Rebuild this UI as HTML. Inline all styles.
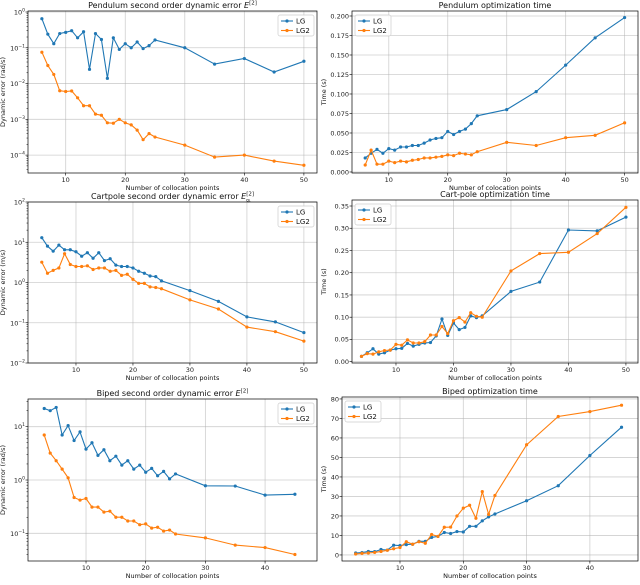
<!DOCTYPE html>
<html><head><meta charset="utf-8"><style>
body{margin:0;background:#fff}
svg{font-family:"DejaVu Sans","Liberation Sans",sans-serif}
</style></head><body>
<svg id="fig" width="640" height="580" viewBox="0 0 640 580" xmlns="http://www.w3.org/2000/svg"></svg>
<script>
// ---------- data ----------
const xsA = [6,7,8,9,10,11,12,13,14,15,16,17,18,19,20,21,22,23,24,25,30,35,40,45,50];
const xsB = [4,5,6,7,8,9,10,11,12,13,14,15,16,17,18,19,20,21,22,23,24,25,30,35,40,45,50];
const xsC = [3,4,5,6,7,8,9,10,11,12,13,14,15,16,17,18,19,20,21,22,23,24,25,30,35,40,45];
const pendErrLG = [0.65,0.24,0.13,0.25,0.27,0.3,0.19,0.28,0.025,0.25,0.17,0.014,0.19,0.09,0.13,0.1,0.145,0.095,0.115,0.165,0.1,0.035,0.05,0.021,0.042];
const pendErrLG2 = [0.075,0.032,0.018,0.0063,0.006,0.0062,0.004,0.0024,0.0024,0.0014,0.0013,0.0008,0.00078,0.001,0.0008,0.0007,0.0005,0.00027,0.0004,0.00032,0.00019,0.000088,0.0001,0.000068,0.000052];
const pendTimeLG = [0.018,0.024,0.029,0.024,0.030,0.028,0.032,0.032,0.034,0.034,0.037,0.041,0.043,0.044,0.052,0.048,0.052,0.055,0.062,0.072,0.080,0.103,0.137,0.172,0.198];
const pendTimeLG2 = [0.009,0.028,0.010,0.010,0.014,0.012,0.014,0.013,0.015,0.016,0.018,0.018,0.019,0.020,0.022,0.021,0.024,0.023,0.022,0.026,0.038,0.034,0.044,0.047,0.063];
const cartErrLG = [13,8,6,8.5,6.5,6.5,5.8,4.5,5.5,4,5.5,3.5,3.9,2.7,2.5,2.5,2.3,1.9,1.7,1.45,1.4,1.1,0.63,0.34,0.14,0.105,0.057];
const cartErrLG2 = [3.2,1.7,2,2.3,5.2,2.8,2.5,2.5,2.6,2.1,2.3,2.3,1.9,2,1.5,1.6,1.2,0.95,0.95,0.78,0.75,0.7,0.37,0.22,0.078,0.06,0.035];
const cartTimeLG = [0.012,0.020,0.029,0.017,0.020,0.026,0.029,0.030,0.041,0.035,0.039,0.042,0.043,0.058,0.096,0.059,0.087,0.072,0.077,0.103,0.099,0.103,0.158,0.179,0.296,0.294,0.325];
const cartTimeLG2 = [0.012,0.018,0.017,0.022,0.025,0.026,0.039,0.037,0.049,0.042,0.042,0.045,0.060,0.060,0.079,0.063,0.092,0.099,0.089,0.110,0.102,0.100,0.204,0.243,0.246,0.288,0.347];
const bipErrLG = [22,20,23,7,10.5,5.5,8,3.8,5,2.9,3.7,2.3,2.8,1.9,2.3,1.6,1.9,1.4,1.65,1.2,1.45,1.05,1.3,0.78,0.77,0.52,0.54];
const bipErrLG2 = [7,3.2,2.3,1.6,1.1,0.47,0.42,0.45,0.31,0.31,0.25,0.26,0.2,0.2,0.17,0.17,0.145,0.15,0.125,0.13,0.11,0.115,0.097,0.082,0.06,0.054,0.04];
const bipTimeLG = [1,1.2,1.8,1.7,2.8,2.5,5,4.8,5.3,5.5,7,7,9,9.5,11.5,11,12,11.8,14.7,14.7,17.5,19.5,21,27.8,35.5,51,65.5];
const bipTimeLG2 = [0.5,0.8,1,1.3,1.8,2.4,3.2,3.8,6.8,5.5,6.8,6,10.5,9.5,14.2,14.3,20,24,25.5,18.8,32.5,20.8,30.5,56.5,71,73.5,76.8];
const xTicks50 = [10,20,30,40,50];
const xTicks45 = [10,20,30,40];
const pendTimeTicks = [0,0.025,0.05,0.075,0.1,0.125,0.15,0.175,0.2];
const pendTimeTickLabels = ["0.000","0.025","0.050","0.075","0.100","0.125","0.150","0.175","0.200"];
const cartTimeTicks = [0,0.05,0.1,0.15,0.2,0.25,0.3,0.35];
const cartTimeTickLabels = ["0.00","0.05","0.10","0.15","0.20","0.25","0.30","0.35"];
const bipTimeTicks = [0,10,20,30,40,50,60,70,80];
const seriesNames = ["LG","LG2"];

const NS="http://www.w3.org/2000/svg";
const svg=document.getElementById('fig');
const C1="#1f77b4",C2="#ff7f0e";
function mk(tag,attrs,parent){const e=document.createElementNS(NS,tag);for(const k in attrs)e.setAttribute(k,attrs[k]);(parent||svg).appendChild(e);return e;}

const panels=[
 {id:'pendulum-error',box:[28,11,317,173],x:[3.67,52.2],log:true,y:[-4.5,0.028],decades:[-4,-3,-2,-1,0],xs:xsA,a:pendErrLG,b:pendErrLG2,xt:xTicks50,title:['Pendulum second order dynamic error ','E','[2]'],yl:'Dynamic error (rad/s)',legRight:true},
 {id:'pendulum-time',box:[352,11,638,173],x:[3.76,52.27],log:false,y:[-0.0013,0.2064],yt:pendTimeTicks,ytl:pendTimeTickLabels,xs:xsA,a:pendTimeLG,b:pendTimeLG2,xt:xTicks50,title:['Pendulum optimization time'],yl:'Time (s)',xl:'Number of colocation points',legRight:false},
 {id:'cartpole-error',box:[28,202,317,363],x:[1.58,52.3],log:true,y:[-2,2],decades:[-2,-1,0,1,2],xs:xsB,a:cartErrLG,b:cartErrLG2,xt:xTicks50,title:['Cartpole second order dynamic error ','E','[2]','q₁'],yl:'Dynamic error (m/s)',legRight:true},
 {id:'cartpole-time',box:[352,200,638,363],x:[2.35,52.1],log:false,y:[-0.003,0.3635],yt:cartTimeTicks,ytl:cartTimeTickLabels,xs:xsB,a:cartTimeLG,b:cartTimeLG2,xt:xTicks50,title:['Cart-pole optimization time'],yl:'Time (s)',legRight:false},
 {id:'biped-error',box:[28,399,317,561],x:[0.28,48.7],log:true,y:[-1.52,1.52],decades:[-1,0,1],xs:xsC,a:bipErrLG,b:bipErrLG2,xt:xTicks45,title:['Biped second order dynamic error ','E','[2]'],yl:'Dynamic error (rad/s)',legRight:true},
 {id:'biped-time',box:[342,397,638,561],x:[0.84,47.6],log:false,y:[-3.1,81],yt:bipTimeTicks,ytl:bipTimeTicks.map(String),xs:xsC,a:bipTimeLG,b:bipTimeLG2,xt:xTicks45,title:['Biped optimization time'],yl:'Time (s)',legRight:false}
];

panels.forEach(p=>{
 const [x0,y0,x1,y1]=p.box;
 const g=mk('g',{});
 
 
 const sx=v=>x0+(v-p.x[0])/(p.x[1]-p.x[0])*(x1-x0);
 const sy=v=>{const t=p.log?Math.log10(v):v;return y1-(t-p.y[0])/(p.y[1]-p.y[0])*(y1-y0);};
 p.xt.forEach(t=>{const X=sx(t);
  mk('line',{x1:X,x2:X,y1:y0,y2:y1,stroke:'#b0b0b0','stroke-width':0.8,opacity:0.6},g);
  mk('line',{x1:X,x2:X,y1:y1,y2:y1+2.5,stroke:'#000','stroke-width':0.6},g);
  const tx=mk('text',{x:X,y:y1+9,'font-size':6.5,'text-anchor':'middle',fill:'#222'},g);tx.textContent=t;
  
 });
 if(p.log){
  p.decades.forEach(d=>{const Y=sy(Math.pow(10,d));
   mk('line',{x1:x0,x2:x1,y1:Y,y2:Y,stroke:'#b0b0b0','stroke-width':0.8,opacity:0.6},g);
   mk('line',{x1:x0-2.5,x2:x0,y1:Y,y2:Y,stroke:'#000','stroke-width':0.6},g);
   const tx=mk('text',{x:x0-3,y:Y+2.5,'font-size':6.5,'text-anchor':'end',fill:'#222'},g);
   tx.textContent='10';const ts=mk('tspan',{dy:-3,'font-size':4.5},tx);ts.textContent=String(d).replace('-','−');
   
  });
  for(let d=Math.floor(p.y[0]);d<p.y[1];d++)for(let m=2;m<10;m++){const v=Math.log10(m)+d;if(v<p.y[0]||v>p.y[1])continue;const Y=sy(Math.pow(10,v));
   mk('line',{x1:x0-1.5,x2:x0,y1:Y,y2:Y,stroke:'#000','stroke-width':0.5},g);}
 } else {
  p.yt.forEach((t,i)=>{const Y=sy(t);
   mk('line',{x1:x0,x2:x1,y1:Y,y2:Y,stroke:'#b0b0b0','stroke-width':0.8,opacity:0.6},g);
   mk('line',{x1:x0-2.5,x2:x0,y1:Y,y2:Y,stroke:'#000','stroke-width':0.6},g);
   const tx=mk('text',{x:x0-3,y:Y+2.3,'font-size':6.5,'text-anchor':'end',fill:'#222'},g);tx.textContent=p.ytl[i];
   
  });
 }
 [[p.a,C1,'lg'],[p.b,C2,'lg2']].forEach(([vals,col,nm])=>{
  const pts=p.xs.map((x,i)=>sx(x).toFixed(1)+','+sy(vals[i]).toFixed(1)).join(' ');
  const l=mk('polyline',{points:pts,fill:'none',stroke:col,'stroke-width':1.1},g);
  
  p.xs.forEach((x,i)=>{const c=mk('circle',{cx:sx(x),cy:sy(vals[i]),r:1.6,fill:col},g);
   });
 });
 const fr=mk('rect',{x:x0,y:y0,width:x1-x0,height:y1-y0,fill:'none',stroke:'#000','stroke-width':0.7},g);
 
 const tt=mk('text',{x:(x0+x1)/2,y:y0-3,'font-size':8,'text-anchor':'middle',fill:'#111'},g);
 
 tt.appendChild(document.createTextNode(p.title[0]));
 if(p.title[1]){const e=mk('tspan',{'font-style':'italic'},tt);e.textContent=p.title[1];
  const s=mk('tspan',{dy:-3.5,'font-size':5.5},tt);s.textContent=p.title[2];
  if(p.title[3]){const q=mk('tspan',{dy:6,dx:-8,'font-size':4.5},tt);q.textContent=p.title[3];}}
 const xl=mk('text',{x:(x0+x1)/2,y:y1+17,'font-size':6.5,'text-anchor':'middle',fill:'#111'},g);
 xl.textContent=p.xl||'Number of collocation points';
 
 const yx=(x0<300)?5:326;
 const yl=mk('text',{x:yx,y:(y0+y1)/2,'font-size':6.5,'text-anchor':'middle',fill:'#111',transform:`rotate(-90 ${yx} ${(y0+y1)/2})`},g);
 yl.textContent=p.yl;
 
 const lw=36,lh=21;const lx=p.legRight?x1-lw-3:x0+3,ly=y0+4;
 const lg=mk('g',{},g);
 
 mk('rect',{x:lx,y:ly,width:lw,height:lh,rx:2,fill:'#fff','fill-opacity':0.85,stroke:'#ccc','stroke-width':0.7},lg);
 seriesNames.forEach((n,i)=>{const col=i?C2:C1;const yy=ly+6+i*9.5;
  const e=mk('g',{},lg);
  mk('line',{x1:lx+3,x2:lx+15,y1:yy,y2:yy,stroke:col,'stroke-width':1.1},e);
  mk('circle',{cx:lx+9,cy:yy,r:1.6,fill:col},e);
  const t=mk('text',{x:lx+18,y:yy+2.5,'font-size':7,fill:'#111'},e);t.textContent=n;});
});
</script>
</body></html>
